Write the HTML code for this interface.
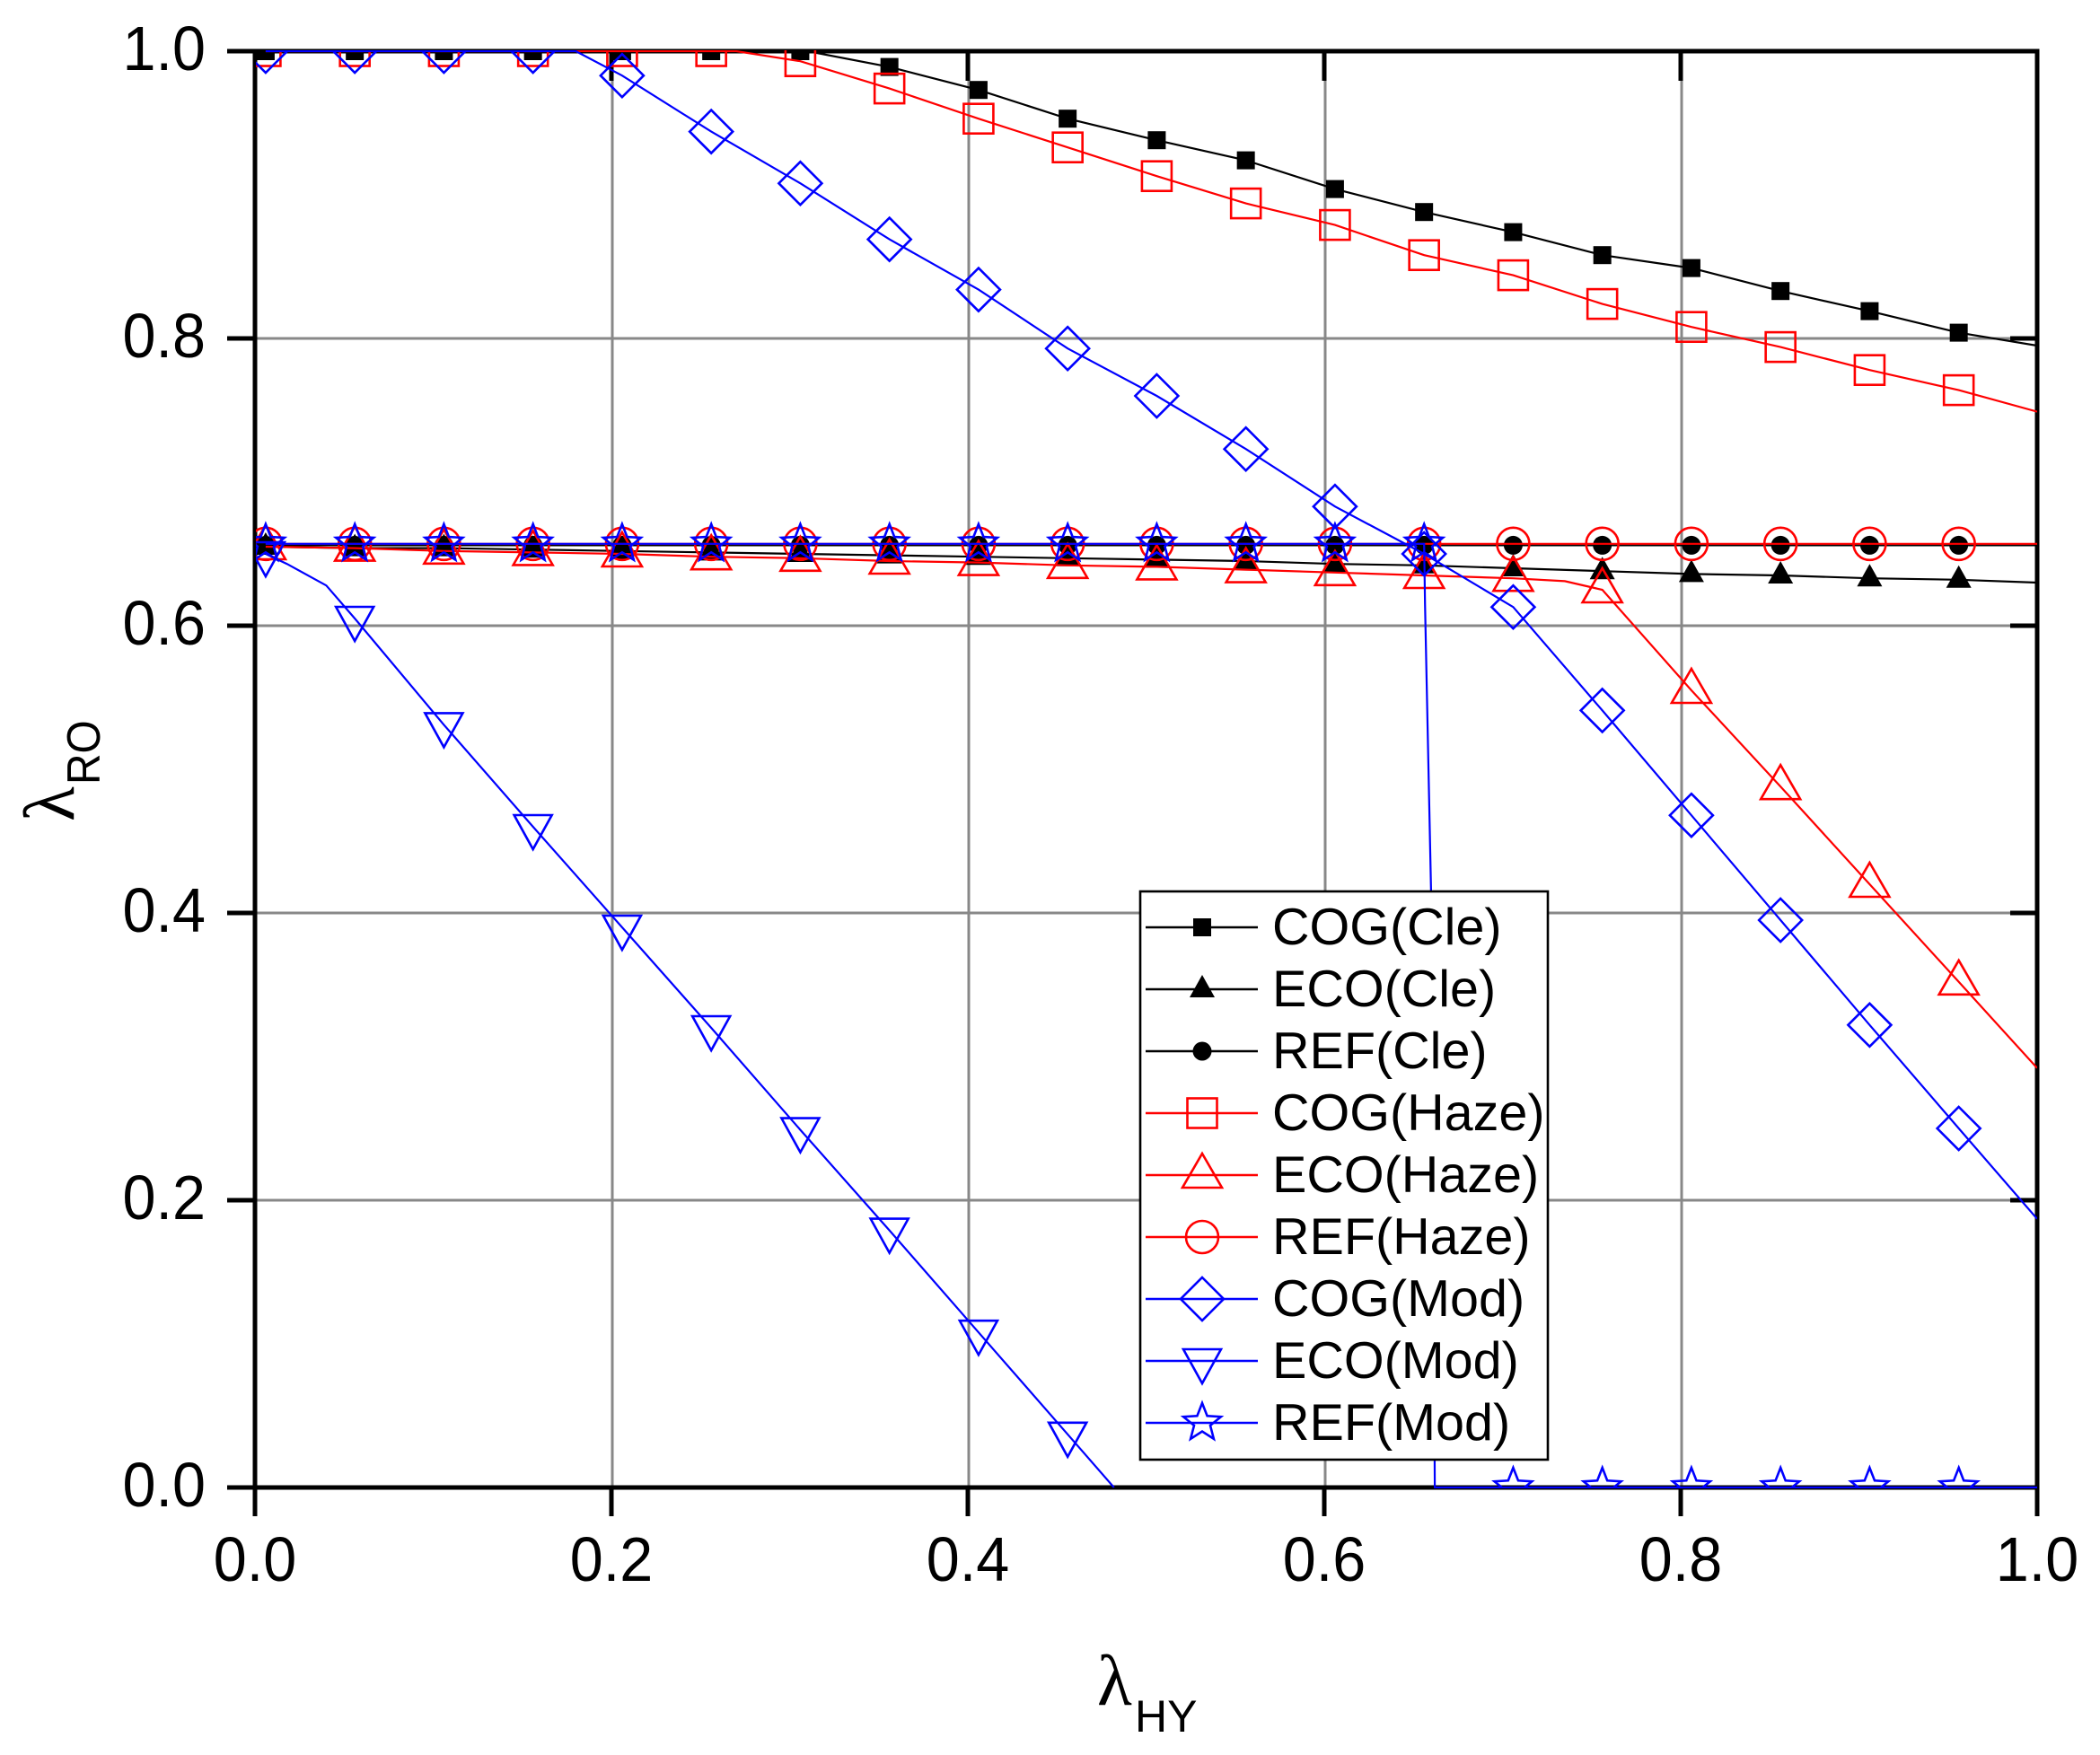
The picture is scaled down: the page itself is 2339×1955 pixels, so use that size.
<!DOCTYPE html>
<html lang="en">
<head>
<meta charset="utf-8">
<title>λRO vs λHY</title>
<style>
html,body{margin:0;padding:0;background:#fff;}
svg{display:block;}
text{font-family:"Liberation Sans",sans-serif;fill:#000;}
</style>
</head>
<body>
<svg id="chart" xmlns="http://www.w3.org/2000/svg" width="2339" height="1955" viewBox="0 0 2339 1955">
<defs><clipPath id="plot-clip"><rect x="285" y="56" width="1984" height="1602"/></clipPath></defs>
<rect x="0" y="0" width="2339" height="1955" fill="#fff"/>
<g id="grid"></g>
<g id="axes"></g>
<g id="series" clip-path="url(#plot-clip)"></g>
<g id="legend"></g>
<g transform="translate(82,915) rotate(-90)">
<text x="0" y="0" font-size="80" style="font-family:'Liberation Serif',serif">λ</text>
<text transform="translate(41,29) scale(0.92,1)" x="0" y="0" font-size="52">RO</text>
</g>
<g transform="translate(1222,1899)">
<text x="0" y="0" font-size="80" style="font-family:'Liberation Serif',serif">λ</text>
<text x="42" y="30" font-size="50">HY</text>
</g>
</svg>
<script>
// Chart data
const lambdaHY = [0.006,0.056,0.106,0.156,0.206,0.256,0.306,0.356,0.406,0.456,0.506,0.556,0.606,0.656,0.706,0.756,0.806,0.856,0.906,0.956];
const xTickLabels = ["0.0","0.2","0.4","0.6","0.8","1.0"];
const yTickLabels = ["0.0","0.2","0.4","0.6","0.8","1.0"];

const cogCle  = [1,1,1,1,1,1,1,0.989,0.973,0.953,0.938,0.924,0.904,0.888,0.874,0.858,0.849,0.833,0.819,0.804];
const ecoCle  = [0.655,0.654,0.654,0.653,0.652,0.651,0.650,0.649,0.648,0.647,0.646,0.645,0.643,0.642,0.640,0.638,0.636,0.635,0.633,0.632];
const refCle  = [0.656,0.656,0.656,0.656,0.656,0.656,0.656,0.656,0.656,0.656,0.656,0.656,0.656,0.656,0.656,0.656,0.656,0.656,0.656,0.656];
const cogHaze = [1,1,1,1,1,1,0.993,0.974,0.953,0.933,0.913,0.894,0.879,0.858,0.844,0.824,0.808,0.794,0.778,0.764];
const ecoHaze = [0.655,0.654,0.652,0.651,0.650,0.648,0.647,0.645,0.644,0.642,0.641,0.639,0.637,0.635,0.633,0.625,0.555,0.488,0.420,0.352];
const refHaze = [0.657,0.657,0.657,0.657,0.657,0.657,0.657,0.657,0.657,0.657,0.657,0.657,0.657,0.657,0.657,0.657,0.657,0.657,0.657,0.657];
const cogMod  = [1,1,1,1,0.983,0.944,0.908,0.869,0.834,0.793,0.760,0.723,0.683,0.650,0.613,0.541,0.468,0.395,0.322,0.250];
const ecoMod  = [0.650,0.605,0.531,0.460,0.390,0.320,0.249,0.179,0.108,0.037];
const refMod  = [0.657,0.657,0.657,0.657,0.657,0.657,0.657,0.657,0.657,0.657,0.657,0.657,0.657,0.657,0,0,0,0,0,0];

// Extra line vertices between markers: [lambdaHY, lambdaRO]
const cogCleExtra  = [[0.31,1],[1,0.795]];
const ecoCleExtra  = [[1,0.630]];
const refCleExtra  = [[1,0.656]];
const cogHazeExtra = [[0.27,1],[1,0.749]];
const ecoHazeExtra = [[0.735,0.631],[1,0.292]];
const refHazeExtra = [[1,0.657]];
const cogModExtra  = [[0.18,1],[1,0.187]];
const ecoModExtra  = [[0.018,0.643],[0.04,0.628],[0.482,0]];
const refModExtra  = [[0.6565,0.615],[0.66,0.41],[0.662,0],[1,0]];

const seriesNames = ["COG(Cle)","ECO(Cle)","REF(Cle)","COG(Haze)","ECO(Haze)","REF(Haze)","COG(Mod)","ECO(Mod)","REF(Mod)"];
const seriesValues = [cogCle,ecoCle,refCle,cogHaze,ecoHaze,refHaze,cogMod,ecoMod,refMod];
const seriesExtras = [cogCleExtra,ecoCleExtra,refCleExtra,cogHazeExtra,ecoHazeExtra,refHazeExtra,cogModExtra,ecoModExtra,refModExtra];
const seriesColors = ["#000","#000","#000","#f00","#f00","#f00","#00f","#00f","#00f"];
const seriesMarkers = ["fsquare","ftri","fcircle","square","tri","circle","diamond","dtri","star"];

// Layout
const NS = "http://www.w3.org/2000/svg";
const L = 284, R = 2269, T = 57, B = 1657;
const sx = v => L + v * (R - L);
const sy = v => B - v * (B - T);

function make(tag, attrs, parent) {
  const el = document.createElementNS(NS, tag);
  for (const k in attrs) el.setAttribute(k, attrs[k]);
  parent.appendChild(el);
  return el;
}
function slug(s) { return s.toLowerCase().replace(/[()]/g, "-").replace(/-$/, ""); }

function drawMarker(type, x, y, color, parent) {
  const sw = 2.6;
  const open = {fill: "none", stroke: color, "stroke-width": sw};
  const solid = {fill: color, stroke: "none"};
  let el;
  if (type === "fsquare") {
    el = make("rect", Object.assign({x: x - 10, y: y - 10, width: 20, height: 20}, solid), parent);
  } else if (type === "ftri") {
    el = make("polygon", Object.assign({points: `${x},${y - 16} ${x + 14},${y + 9} ${x - 14},${y + 9}`}, solid), parent);
  } else if (type === "fcircle") {
    el = make("circle", Object.assign({cx: x, cy: y, r: 10.5}, solid), parent);
  } else if (type === "square") {
    el = make("rect", Object.assign({x: x - 16.5, y: y - 16.5, width: 33, height: 33}, open), parent);
  } else if (type === "tri") {
    el = make("polygon", Object.assign({points: `${x},${y - 24} ${x + 22},${y + 14} ${x - 22},${y + 14}`}, open), parent);
  } else if (type === "circle") {
    el = make("circle", Object.assign({cx: x, cy: y, r: 18}, open), parent);
  } else if (type === "diamond") {
    el = make("polygon", Object.assign({points: `${x},${y - 24} ${x + 24},${y} ${x},${y + 24} ${x - 24},${y}`}, open), parent);
  } else if (type === "dtri") {
    el = make("polygon", Object.assign({points: `${x - 21},${y - 13} ${x + 21},${y - 13} ${x},${y + 25}`}, open), parent);
  } else {
    const pts = [];
    for (let i = 0; i < 10; i++) {
      const r = i % 2 === 0 ? 22 : 9.5;
      const a = -Math.PI / 2 + i * Math.PI / 5;
      pts.push((x + r * Math.cos(a)).toFixed(1) + "," + (y + r * Math.sin(a)).toFixed(1));
    }
    el = make("polygon", Object.assign({points: pts.join(" ")}, open), parent);
  }
  return el;
}

// Grid
const gridG = document.getElementById("grid");
yTickLabels.forEach(t => {
  const v = parseFloat(t);
  if (v <= 0 || v >= 1) return;
  const h = make("line", {x1: L, x2: R, y1: sy(v), y2: sy(v), stroke: "#888", "stroke-width": 3}, gridG);
  
  
});
xTickLabels.forEach(t => {
  const v = parseFloat(t);
  if (v <= 0 || v >= 1) return;
  const g = make("line", {x1: sx(v) + 1, x2: sx(v) + 1, y1: T, y2: B, stroke: "#888", "stroke-width": 3}, gridG);
  
  
});

// Axes and ticks
const axesG = document.getElementById("axes");
const frame = make("rect", {x: L, y: T, width: R - L, height: B - T, fill: "none", stroke: "#000", "stroke-width": 5}, axesG);



xTickLabels.forEach(t => {
  const v = parseFloat(t);
  const x = sx(v);
  const tick = make("line", {x1: x, x2: x, y1: B, y2: B + 32, stroke: "#000", "stroke-width": 5}, axesG);
  
  
  const top = make("line", {x1: x, x2: x, y1: T, y2: T + 33, stroke: "#000", "stroke-width": 5}, axesG);
  
  
  const label = make("text", {transform: `translate(${x},${B + 104}) scale(0.95,1)`, "font-size": 70, "text-anchor": "middle"}, axesG);
  label.textContent = t;
  
  
});
yTickLabels.forEach(t => {
  const v = parseFloat(t);
  const y = sy(v);
  const tick = make("line", {x1: L - 31, x2: L, y1: y, y2: y, stroke: "#000", "stroke-width": 5}, axesG);
  
  
  const right = make("line", {x1: R - 30, x2: R, y1: y, y2: y, stroke: "#000", "stroke-width": 5}, axesG);
  
  
  const label = make("text", {transform: `translate(${L - 55},${y + 21}) scale(0.95,1)`, "font-size": 70, "text-anchor": "end"}, axesG);
  label.textContent = t;
  
  
});

// Series
const seriesG = document.getElementById("series");
seriesNames.forEach((name, i) => {
  const vals = seriesValues[i];
  const pts = vals.map((v, j) => [lambdaHY[j], v]).concat(seriesExtras[i]).sort((a, b) => a[0] - b[0]);
  const g = make("g", {}, seriesG);
  
  
  const line = make("polyline", {
    points: pts.map(p => sx(p[0]).toFixed(1) + "," + sy(p[1]).toFixed(1)).join(" "),
    fill: "none", stroke: seriesColors[i], "stroke-width": 2.2
  }, g);
  
  
  vals.forEach((v, j) => {
    const m = drawMarker(seriesMarkers[i], sx(lambdaHY[j]), sy(v), seriesColors[i], g);
    
    
  });
});

// Legend
const legendG = document.getElementById("legend");
const box = make("rect", {x: 1270, y: 993, width: 454, height: 633, fill: "#fff", stroke: "#000", "stroke-width": 2.6}, legendG);


seriesNames.forEach((name, i) => {
  const y = 1033 + i * 69;
  const g = make("g", {}, legendG);
  
  
  const ln = make("line", {x1: 1276, x2: 1401, y1: y, y2: y, stroke: seriesColors[i], "stroke-width": 2.4}, g);
  
  
  const mk = drawMarker(seriesMarkers[i], 1339, y, seriesColors[i], g);
  
  
  const tx = make("text", {x: 1417, y: y + 19, "font-size": 57.5}, g);
  tx.textContent = name;
  
  
});
</script>
</body>
</html>
